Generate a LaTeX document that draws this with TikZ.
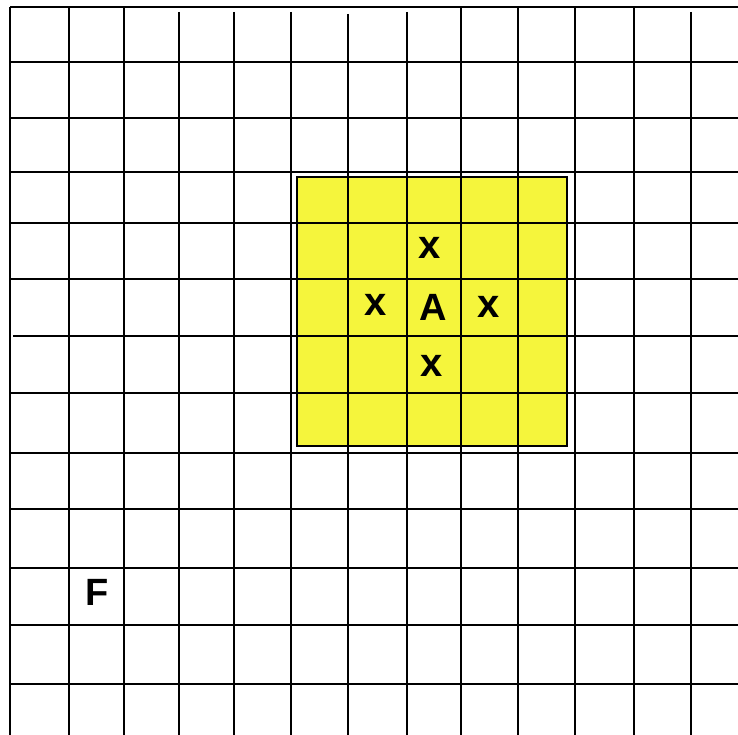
\documentclass[tikz,border=0pt]{standalone}
\usepackage{fontspec}
\setmainfont{Liberation Sans}
\definecolor{boxyellow}{RGB}{245,245,60}
\begin{document}
\begin{tikzpicture}[x=1pt,y=-1pt,
  gridline/.style={line width=1.4pt,black},
  lbl/.style={font=\fontsize{38}{38}\selectfont\bfseries,inner sep=0pt,anchor=center},
  xlbl/.style={font=\fontsize{40}{40}\selectfont\bfseries,inner sep=0pt,anchor=center}]
\useasboundingbox (0,0) rectangle (738,735);
% top and left border
\draw[gridline] (10,7) -- (738,7);
\draw[gridline] (10,7) -- (10,735);
% vertical lines (x, top y)
\foreach \vx/\vy in {69/7,124/7,179/12,234/12,291/12,348/14,407/12,461/7,518/7,575/7,634/7,691/12}
  \draw[gridline] (\vx,\vy) -- (\vx,735);
% horizontal lines
\foreach \hy/\hx in {62/10,118/10,172/10,223/10,279/10,336/13,393/10,453/10,509/10,568/10,625/10,684/10}
  \draw[gridline] (\hx,\hy) -- (738,\hy);
% yellow region
\fill[boxyellow] (297,177) rectangle (567,446);
\foreach \vx in {348,407,461,518}
  \draw[gridline] (\vx,177) -- (\vx,446);
\foreach \hy in {223,279,336,393}
  \draw[gridline] (297,\hy) -- (567,\hy);
\draw[line width=1.2pt,black] (297,177) rectangle (567,446);
% labels
\node[xlbl] (xt) at (430,248) {x};
\node[xlbl] (xl) at (376,305) {x};
\node[lbl]  (a)  at (433,307) {A};
\node[xlbl] (xr) at (489,307) {x};
\node[xlbl] (xb) at (432,366) {x};
\node[lbl]  (f)  at (97,592) {F};
\end{tikzpicture}
\end{document}
